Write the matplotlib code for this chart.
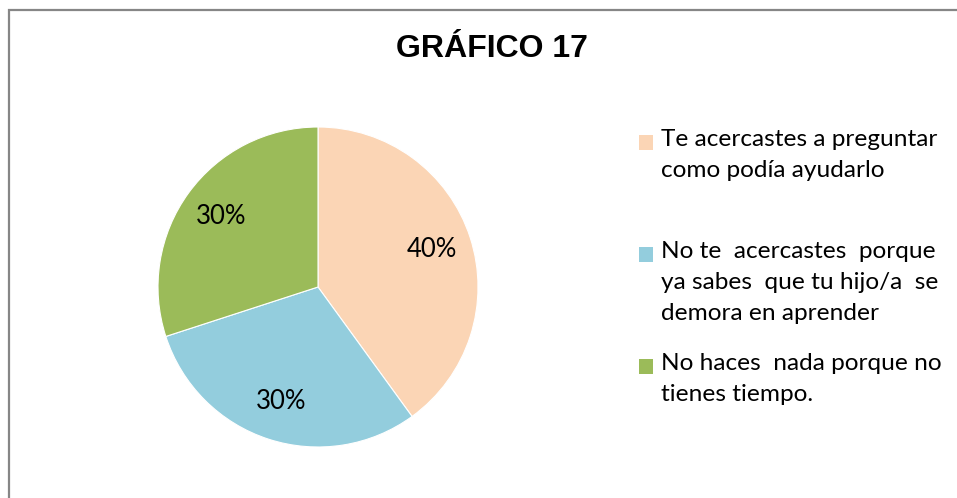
import matplotlib
matplotlib.use("Agg")
from matplotlib import pyplot as plt
from matplotlib.patches import Rectangle

# data
labels = ["Te acercastes a preguntar\ncomo podía ayudarlo",
          "No te  acercastes  porque\nya sabes  que tu hijo/a  se\ndemora en aprender",
          "No haces  nada porque no\ntienes tiempo."]
values = [40, 30, 30]
colors = ["#FBD5B5", "#93CDDD", "#9BBB59"]
title = "GRÁFICO 17"

W, H = 957, 498
fig = plt.figure(figsize=(W / 100, H / 100), dpi=100)

# outer chart border (only top/left visible, rest cut off)
fig.patches.append(Rectangle((9 / W, -0.1), 1.2, (H - 10) / H + 0.1,
                             transform=fig.transFigure, fill=False,
                             edgecolor="#868686", linewidth=1.6))

# pie axes: center (318, 287), radius 160 px
cx, cy, r = 318, 287, 160
ax = fig.add_axes([(cx - r) / W, (H - cy - r) / H, 2 * r / W, 2 * r / H])
wedges, texts = ax.pie(values, colors=colors, startangle=90, counterclock=False,
                       labels=[f"{v}%" for v in values], labeldistance=0.75,
                       wedgeprops=dict(linewidth=0.8, edgecolor="white"),
                       textprops=dict(family="Lato", fontsize=18.5, color="black",
                                      ha="center", va="center"))
ax.set_aspect("equal")
ax.set_xlim(-1, 1)
ax.set_ylim(-1, 1)

fig.text(492 / W, 1 - 49 / H, title, family="Liberation Sans", weight="bold",
         fontsize=23, ha="center", va="center")

# legend, placed by hand like the original (first baseline of each entry)
baselines = [150, 262, 374]
for lab, col, y in zip(labels, colors, baselines):
    fig.patches.append(Rectangle((639 / W, 1 - y / H), 14 / W, 15 / H,
                                 transform=fig.transFigure, facecolor=col,
                                 edgecolor="none"))
    fig.text(661 / W, 1 - (y - 21) / H, lab, family="Lato", fontsize=17.6,
             ha="left", va="top", linespacing=1.58)

fig.savefig("out.png", dpi=100)
